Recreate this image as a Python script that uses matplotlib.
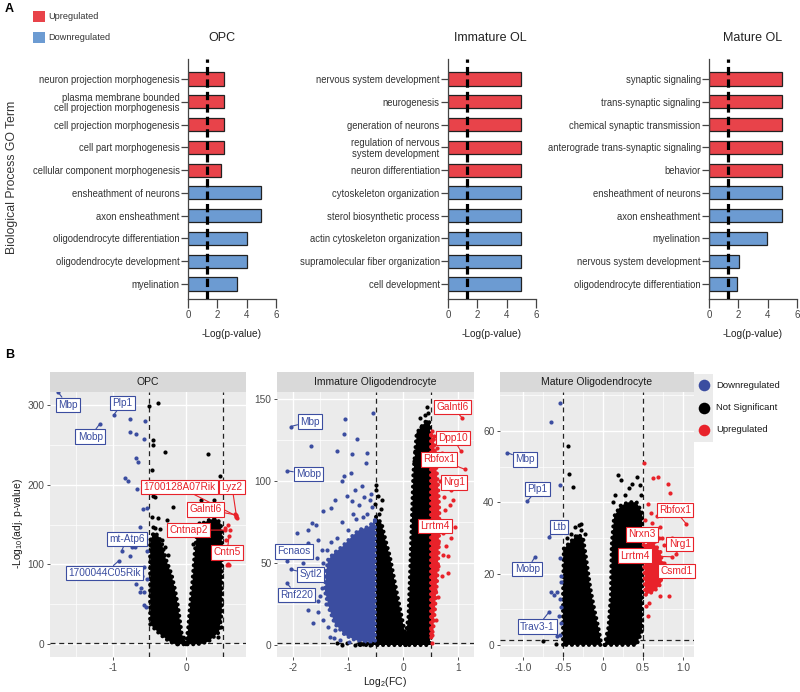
import matplotlib
matplotlib.use('Agg')
import matplotlib.pyplot as plt
from matplotlib.patches import Rectangle, Polygon

plt.rcParams['font.family'] = ['Liberation Sans', 'DejaVu Sans']
plt.rcParams['mathtext.default'] = 'regular'

# ---------------- panel A data (GO terms, -log p) ----------------
opc_terms = ['neuron projection morphogenesis', 'plasma membrane bounded\ncell projection morphogenesis',
             'cell projection morphogenesis', 'cell part morphogenesis', 'cellular component morphogenesis',
             'ensheathment of neurons', 'axon ensheathment', 'oligodendrocyte differentiation',
             'oligodendrocyte development', 'myelination']
opc_vals = [2.45, 2.45, 2.45, 2.45, 2.22, 4.97, 4.97, 3.99, 4.0, 3.35]

imm_terms = ['nervous system development', 'neurogenesis', 'generation of neurons',
             'regulation of nervous\nsystem development', 'neuron differentiation', 'cytoskeleton organization',
             'sterol biosynthetic process', 'actin cytoskeleton organization',
             'supramolecular fiber organization', 'cell development']
imm_vals = [4.97, 4.97, 4.97, 4.97, 4.97, 4.97, 4.97, 4.97, 4.97, 4.97]

mat_terms = ['synaptic signaling', 'trans-synaptic signaling', 'chemical synaptic transmission',
             'anterograde trans-synaptic signaling', 'behavior', 'ensheathment of neurons', 'axon ensheathment',
             'myelination', 'nervous system development', 'oligodendrocyte differentiation']
mat_vals = [4.97, 4.97, 4.97, 4.97, 4.97, 4.97, 4.97, 3.95, 2.05, 1.9]
n_up = 5
p_cut = 1.3

# ---------------- panel B data (volcano) ----------------
# dense clouds read as outlines (log2FC, -log10 padj)
opc_cloud_ns = [
    [(-0.12, 0), (-0.22, 3), (-0.35, 12), (-0.49, 25), (-0.49, 70), (-0.49, 130), (-0.44, 140),
     (-0.38, 136), (-0.33, 126), (-0.27, 105), (-0.20, 88), (-0.15, 68), (-0.11, 47), (-0.06, 13),
     (0.02, 0)],
    [(0.0, 0), (0.03, 20), (0.05, 42), (0.09, 80), (0.12, 115), (0.15, 140), (0.20, 150), (0.30, 155),
     (0.40, 158), (0.47, 152), (0.49, 140), (0.49, 40), (0.45, 15), (0.30, 3), (0.15, 0)],
]
opc_cloud_up = []
opc_cloud_down = []
opc_down_x = [-0.76, -0.56, -0.76, -0.68, -0.58, -0.69, -0.66, -0.83, -0.79, -0.67, -0.59, -0.53, -0.63,
              -0.54, -0.76, -0.74, -0.70, -0.57, -0.60, -0.63, -0.57, -0.57, -0.55, -0.61, -0.69, -0.53]
opc_down_y = [282, 280, 266, 263, 257, 233, 228, 208, 205, 194, 170, 171, 147,
              117, 110, 122, 122, 97, 86, 66, 66, 49, 47, 71, 76, 82]
opc_ns_x = [-0.50, -0.38, -0.45, -0.45, -0.29, 0.30, -0.46, 0.46, -0.45, -0.43, -0.18, 0.21, 0.38, -0.38,
            -0.26, -0.29, -0.47, -0.45, 0.39, 0.48, 0.46, 0.48, 0.44, -0.29, -0.22, 0.13, 0.33, 0.43, 0.47,
            0.49, -0.42, -0.36, 0.18, 0.25, 0.42, 0.35, -0.24, -0.33, 0.10, 0.45]
opc_ns_y = [299, 302, 256, 250, 241, 238, 218, 211, 186, 184, 172, 181, 181, 158,
            156, 122, 160, 147, 151, 99, 66, 21, 9, 193, 150, 165, 172, 170, 140,
            110, 145, 144, 152, 162, 165, 168, 112, 130, 125, 30]
opc_up_x = [0.58, 0.53, 0.60, 0.54, 0.56, 0.59, 0.57, 0.67, 0.70]
opc_up_y = [150, 145, 143, 130, 99, 99, 100, 163, 158]
opc_labels = [  # gene, point x, point y, label x, label y, direction
    ('Mbp', -1.75, 316, -1.62, 300, 'down'),
    ('Plp1', -0.99, 287, -0.87, 302, 'down'),
    ('Mobp', -1.18, 276, -1.31, 260, 'down'),
    ('mt-Atp6', -0.88, 117, -0.81, 132, 'down'),
    ('1700044C05Rik', -0.92, 104.5, -1.11, 89, 'down'),
    ('1700128A07Rik', 0.68, 161, -0.09, 197, 'up'),
    ('Lyz2', 0.69, 160, 0.63, 197, 'up'),
    ('Galntl6', 0.68, 162, 0.27, 169, 'up'),
    ('Cntnap2', 0.53, 143, 0.03, 143, 'up'),
    ('Cntn5', 0.59, 136, 0.56, 115, 'up'),
]

imm_cloud_ns = [
    [(-0.49, 78), (-0.39, 74), (-0.32, 64), (-0.24, 54), (-0.12, 33), (0.0, 13), (0.06, 3), (0.10, 0),
     (-0.81, 0), (-0.81, 1.5), (-0.49, 2)],
    [(0.04, 0), (0.04, 5), (0.10, 17), (0.13, 44), (0.16, 74), (0.19, 105), (0.25, 129), (0.36, 134),
     (0.44, 137), (0.49, 135), (0.49, 0)],
]
imm_cloud_down = [
    [(-0.51, 76), (-0.62, 72), (-0.80, 70), (-0.93, 66), (-1.10, 60), (-1.25, 56), (-1.36, 52),
     (-1.40, 44), (-1.42, 33), (-1.34, 22), (-1.24, 13), (-1.05, 6), (-0.87, 3), (-0.70, 2), (-0.51, 2)],
]
imm_cloud_up = [
    [(0.51, 128), (0.56, 125), (0.60, 110), (0.64, 95), (0.66, 80), (0.65, 60), (0.62, 40), (0.58, 22),
     (0.55, 10), (0.51, 4)],
]
imm_down_x = [-0.55, -1.06, -1.08, -0.84, -1.67, -1.20, -0.92, -0.65, -0.68, -0.95, -1.11, -1.08, -1.45,
              -1.66, -1.59, -1.93, -1.73, -0.75, -0.87, -1.02, -0.93, -1.24, -1.30, -0.60, -0.57, -1.54,
              -1.72, -1.57, -1.81, -1.72, -1.54, -1.36, -1.63, -1.24, -1.08, -1.33, -1.47, -1.60,
              -1.45, -1.50, -1.48, -1.40, -1.10, -0.90, -0.80, -1.00, -1.20, -0.65, -0.72, -1.50, -1.45,
              -1.15, -0.98, -0.85, -1.30, -1.38, -0.58, -0.70, -1.25, -1.55]
imm_down_y = [141, 137.6, 128.5, 125.4, 121.3, 118, 116.5, 116.9, 111, 105, 99.6, 103, 81.7,
              74, 73, 68, 70, 96.5, 94.5, 90.5, 87.4, 88.4, 83.3, 88.4, 84.3, 64,
              62, 53, 50, 21.3, 20.3, 10.8, 13.3, 9.1, 7.1, 5, 58, 40,
              50, 45, 35, 25, 75, 80, 85, 70, 65, 80, 78, 30, 15,
              3, 2, 77, 63, 58, 92, 90, 4, 27]
imm_ns_x = [0.43, 0.43, 0.28, 0.36, 0.22, -0.49, -0.49, -0.45, -0.39, -0.51, -1.11, -1.02, -0.72, -0.60,
            -0.87, -0.80, 0.30, 0.40, 0.46, 0.33, -0.44, -0.40, 0.20, -1.20]
imm_ns_y = [145, 134, 129, 130, 118, 97.6, 94.5, 90.5, 88.4, 86, 0, 1, 0.5, 0, 0, 0.5, 138, 140, 141,
            133, 80, 83, 112, 1]
imm_up_x = [0.52, 0.57, 0.70, 0.95, 0.82, 0.87, 0.91, 0.85, 0.76, 0.95, 0.73, 0.79, 0.88, 0.64, 0.82,
            0.64, 0.70, 0.82, 0.58, 0.64, 0.60, 0.51, 0.52, 0.52, 0.68, 0.74, 0.70, 0.62, 0.72]
imm_up_y = [130, 127, 117, 115, 111, 94.5, 88.4, 85, 82, 72, 68, 60, 65, 62, 54,
            48, 42, 44, 33.5, 29.5, 15.4, 10, 6, 1, 100, 90, 75, 120, 55]
imm_labels = [
    ('Mbp', -2.04, 133, -1.69, 136, 'down'),
    ('Mobp', -2.10, 106, -1.72, 104, 'down'),
    ('Fcnaos', -2.11, 51, -1.98, 57, 'down'),
    ('Sytl2', -2.04, 46, -1.68, 43, 'down'),
    ('Rnf220', -2.11, 37.6, -1.93, 30.5, 'down'),
    ('Galntl6', 1.08, 138, 0.90, 145, 'up'),
    ('Dpp10', 1.05, 118, 0.91, 126, 'up'),
    ('Rbfox1', 1.12, 107, 0.65, 113, 'up'),
    ('Nrg1', 0.97, 96, 0.93, 99, 'up'),
    ('Lrrtm4', 0.79, 72.6, 0.58, 72.6, 'up'),
]

mat_cloud_ns = [
    [(-0.50, 0), (-0.50, 14), (-0.49, 27), (-0.40, 29), (-0.32, 31), (-0.25, 30), (-0.21, 24),
     (-0.16, 16), (-0.11, 10), (-0.06, 5), (-0.02, 0)],
    [(0.02, 0), (0.07, 5), (0.10, 14), (0.11, 28), (0.14, 36), (0.22, 39), (0.32, 40), (0.42, 40),
     (0.49, 37), (0.49, 20), (0.49, 4), (0.42, 0)],
]
mat_cloud_down = []
mat_cloud_up = [
    [(0.51, 28), (0.62, 29), (0.72, 26), (0.75, 22), (0.72, 17), (0.64, 15), (0.53, 14)],
]
mat_down_x = [-0.54, -0.65, -0.54, -0.54, -0.65, -0.58, -0.61, -0.54, -0.52, -0.55, -0.54, -0.58, -0.52,
              -0.52, -0.52]
mat_down_y = [67.7, 62.5, 44.8, 24.4, 14.9, 14.9, 14, 13, 10.7, 8, 2.8, 2.4, 19.3, 17.5, 6]
mat_ns_x = [-0.44, -0.43, -0.38, -0.27, -0.40, -0.22, -0.75, -0.59, 0.19, 0.23, 0.32, 0.42, 0.46, 0.15,
            0.48, -0.35, 0.36, -0.30, -0.45, -0.28, 0.12, 0.27]
mat_ns_y = [55.7, 48, 44.3, 32.2, 31, 31, 1.2, 0.3, 47.6, 46.3, 44, 47, 44.8, 42, 42, 33, 45, 33.5,
            30, 34, 40, 42]
mat_up_x = [0.51, 0.625, 0.69, 0.81, 0.84, 0.56, 0.61, 0.66, 0.72, 0.74, 0.76, 0.65, 0.60, 0.65, 0.70,
            0.72, 0.83, 0.58, 0.54, 0.57, 0.86, 0.55, 0.52, 0.60, 0.68]
mat_up_y = [51, 46.7, 47, 45, 42.6, 39.4, 34.2, 32, 33, 30, 28, 29, 20, 17.3, 18, 13.6, 13.6, 11.7, 10.8,
            8, 30, 22, 35, 37, 36]
mat_labels = [
    ('Mbp', -1.20, 53.9, -0.98, 52, 'down'),
    ('Plp1', -0.95, 40.2, -0.82, 43.7, 'down'),
    ('Ltb', -0.68, 30.3, -0.55, 33, 'down'),
    ('Mobp', -0.85, 24.7, -0.95, 21.2, 'down'),
    ('Trav3-1', -0.68, 9.1, -0.82, 5.1, 'down'),
    ('Rbfox1', 1.04, 34, 0.90, 37.8, 'up'),
    ('Nrxn3', 0.70, 30, 0.49, 31, 'up'),
    ('Nrg1', 0.92, 25.5, 0.96, 28.3, 'up'),
    ('Lrrtm4', 0.87, 24.7, 0.40, 25, 'up'),
    ('Csmd1', 0.77, 22.9, 0.92, 20.7, 'up'),
]
fc_cut = 0.5

RED_A = '#E8434A'
BLUE_A = '#6C9BD2'
BLUE = '#3B4DA0'
RED = '#E8222A'

fig = plt.figure(figsize=(8, 6.92), dpi=100)


def px_axes(l, t, r, b):
    return fig.add_axes([l / 800, 1 - b / 692, (r - l) / 800, (b - t) / 692])


def go_panel(left, title, title_x, terms, vals):
    ax = px_axes(left, 59, left + 88, 299)
    pos = list(range(len(terms)))
    cols = [RED_A] * n_up + [BLUE_A] * (len(terms) - n_up)
    ax.barh(pos, vals, height=0.58, color=cols, edgecolor='#222222', linewidth=0.9, zorder=2)
    ax.axvline(p_cut, color='black', lw=2.3, ls=(0, (2.6, 1.3)), zorder=3)
    ax.set_xlim(0, 6)
    ax.set_ylim(9.66, -0.88)
    ax.set_yticks(pos)
    ax.set_yticklabels(terms, fontsize=6.85, color='#333333', linespacing=1.05)
    ax.set_xticks([0, 2, 4, 6])
    ax.tick_params(axis='y', length=5, width=0.9, color='#444444', pad=1)
    ax.tick_params(axis='x', length=6.5, width=0.9, color='#444444', labelsize=7, labelcolor='#444444', pad=1.5)
    for s in ['top', 'right']:
        ax.spines[s].set_visible(False)
    for s in ['left', 'bottom']:
        ax.spines[s].set_color('#444444')
        ax.spines[s].set_linewidth(0.9)
    fig.text(title_x / 800, 1 - 38 / 692, title, ha='center', va='center', fontsize=9, color='#222222')
    fig.text((left + 44) / 800, 1 - 334 / 692, '-Log(p-value)', ha='center', va='center', fontsize=7.3,
             color='#222222')
    return ax


go_panel(188, 'OPC', 222, opc_terms, opc_vals)
go_panel(448, 'Immature OL', 490, imm_terms, imm_vals)
go_panel(709, 'Mature OL', 753, mat_terms, mat_vals)

fig.text(12 / 800, 1 - 177 / 692, 'Biological Process GO Term', rotation=90, ha='center', va='center',
         fontsize=8.8, color='#333333')
fig.text(5 / 800, 1 - 9 / 692, 'A', fontsize=9, fontweight='bold', ha='left', va='center')
fig.text(5 / 800, 1 - 355 / 692, 'B', fontsize=9, fontweight='bold', ha='left', va='center')
fig.patches.append(Rectangle((33 / 800, 1 - 22 / 692), 12 / 800, 11 / 692, transform=fig.transFigure,
                             fc=RED_A, ec='none'))
fig.patches.append(Rectangle((33 / 800, 1 - 43 / 692), 12 / 800, 11 / 692, transform=fig.transFigure,
                             fc=BLUE_A, ec='none'))
fig.text(48 / 800, 1 - 16.5 / 692, 'Upregulated', fontsize=6.6, va='center', color='#333333')
fig.text(48 / 800, 1 - 37.5 / 692, 'Downregulated', fontsize=6.6, va='center', color='#333333')


def volcano(l, r, title, xlim, ylim, xmaj, xlab, xmin, ymaj, ymin, clouds_ns, clouds_down, clouds_up,
            dx, dy, nx, ny, ux, uy, labels):
    ax = px_axes(l, 392, r, 657)
    ax.set_facecolor('#EBEBEB')
    for v in xmin:
        ax.axvline(v, color='white', lw=0.5, zorder=0.5)
    for v in ymin:
        ax.axhline(v, color='white', lw=0.5, zorder=0.5)
    for v in xmaj:
        ax.axvline(v, color='white', lw=1.0, zorder=0.6)
    for v in ymaj:
        ax.axhline(v, color='white', lw=1.0, zorder=0.6)
    for clouds, c in [(clouds_ns, 'black'), (clouds_down, BLUE), (clouds_up, RED)]:
        for poly in clouds:
            # filled core, beaded rim so the edge reads as dots
            ax.add_patch(Polygon(poly, closed=True, fc=c, ec=c, lw=3.0, ls=(0, (0.01, 1.35)),
                                 capstyle='round', joinstyle='round', zorder=2))
    ax.scatter(nx, ny, s=9, c='black', linewidths=0, zorder=2.5)
    ax.scatter(dx, dy, s=9, c=BLUE, linewidths=0, zorder=2.5)
    ax.scatter(ux, uy, s=9, c=RED, linewidths=0, zorder=2.5)
    for v in [-fc_cut, fc_cut]:
        ax.axvline(v, color='#222222', lw=0.9, ls=(0, (4, 3)), zorder=1.5)
    ax.axhline(p_cut, color='#222222', lw=0.9, ls=(0, (4, 3)), zorder=1.5)
    for gene, px, py, lx, ly, d in labels:
        c = BLUE if d == 'down' else RED
        ax.scatter([px], [py], s=9, c=c, linewidths=0, zorder=3)
        ax.annotate(gene, xy=(px, py), xytext=(lx, ly), ha='center', va='center', fontsize=7.3, color=c,
                    bbox=dict(boxstyle='square,pad=0.22', fc='white', ec=c, lw=0.8),
                    arrowprops=dict(arrowstyle='-', color=c, lw=0.8, shrinkA=0, shrinkB=0), zorder=5)
    ax.set_xlim(xlim)
    ax.set_ylim(ylim)
    ax.set_xticks(xmaj)
    ax.set_xticklabels(xlab)
    ax.set_yticks(ymaj)
    ax.set_yticklabels([str(v) for v in ymaj])
    ax.tick_params(length=2.5, width=0.6, color='#333333', labelsize=7.3, labelcolor='#4D4D4D', pad=1.5)
    for s in ax.spines.values():
        s.set_visible(False)
    st = px_axes(l, 372, r, 392)
    st.set_facecolor('#D9D9D9')
    st.set_xticks([])
    st.set_yticks([])
    for s in st.spines.values():
        s.set_visible(False)
    st.text(0.5, 0.5, title, ha='center', va='center', fontsize=7.5, color='#1A1A1A', transform=st.transAxes)
    return ax


volcano(50, 246, 'OPC', (-1.86, 0.82), (-16, 316), [-1, 0], ['-1', '0'], [-1.5, -0.5, 0.5],
        [0, 100, 200, 300], [50, 150, 250], opc_cloud_ns, opc_cloud_down, opc_cloud_up,
        opc_down_x, opc_down_y, opc_ns_x, opc_ns_y, opc_up_x, opc_up_y, opc_labels)
volcano(277, 474, 'Immature Oligodendrocyte', (-2.29, 1.29), (-7.3, 154), [-2, -1, 0, 1],
        ['-2', '-1', '0', '1'], [-1.5, -0.5, 0.5], [0, 50, 100, 150], [25, 75, 125],
        imm_cloud_ns, imm_cloud_down, imm_cloud_up,
        imm_down_x, imm_down_y, imm_ns_x, imm_ns_y, imm_up_x, imm_up_y, imm_labels)
volcano(500, 694, 'Mature Oligodendrocyte', (-1.29, 1.14), (-3.4, 70.9), [-1, -0.5, 0, 0.5, 1],
        ['-1.0', '-0.5', '0', '0.5', '1.0'], [-0.75, -0.25, 0.25, 0.75], [0, 20, 40, 60], [10, 30, 50, 70],
        mat_cloud_ns, mat_cloud_down, mat_cloud_up,
        mat_down_x, mat_down_y, mat_ns_x, mat_ns_y, mat_up_x, mat_up_y, mat_labels)

fig.text(18 / 800, 1 - 523 / 692, '-Log$_{10}$(adj. p-value)', rotation=90, ha='center', va='center',
         fontsize=7.5, color='#1A1A1A')
fig.text(385 / 800, 1 - 682 / 692, 'Log$_2$(FC)', ha='center', va='center', fontsize=7.5, color='#1A1A1A')

# legend for panel B
lg = px_axes(694, 372, 800, 446)
lg.set_xlim(694, 800)
lg.set_ylim(446, 372)
lg.axis('off')
lg.add_patch(Rectangle((694, 374), 19, 68, fc='#EBEBEB', ec='none'))
leg_names = ['Downregulated', 'Not Significant', 'Upregulated']
leg_cols = [BLUE, 'black', RED]
for i, (nm, c) in enumerate(zip(leg_names, leg_cols)):
    yy = 385 + i * 22.5
    lg.scatter([703.5], [yy], s=70, c=c, linewidths=0)
    lg.text(716, yy, nm, fontsize=6.8, va='center', color='#1A1A1A')

fig.savefig('out.png', dpi=100)
